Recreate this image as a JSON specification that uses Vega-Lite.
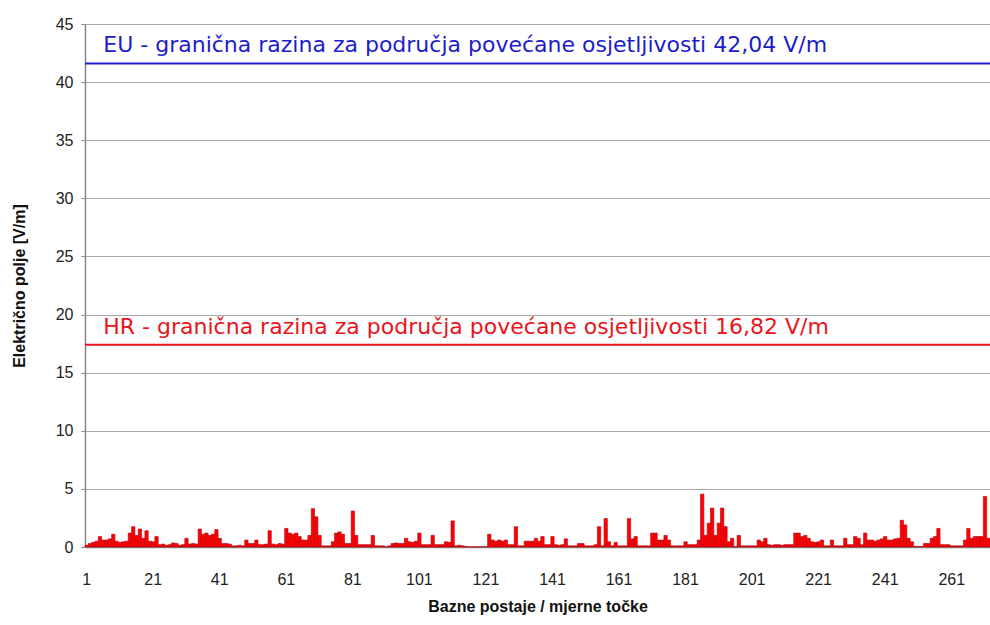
{
  "$schema": "https://vega.github.io/schema/vega-lite/v6.json",
  "width": 905,
  "height": 523,
  "autosize": {"type": "none"},
  "padding": {"left": 85, "top": 24, "right": 0, "bottom": 78},
  "background": "white",
  "config": {
    "view": {"stroke": null},
    "font": "Liberation Sans",
    "axis": {"labelFont": "Liberation Sans", "titleFont": "Liberation Sans"}
  },
  "datasets": {
    "bars": [
      {"i":1,"v":0.15},{"i":2,"v":0.3},{"i":3,"v":0.4},{"i":4,"v":0.5},{"i":5,"v":0.9},{"i":6,"v":0.6},{"i":7,"v":0.6},{"i":8,"v":0.7},{"i":9,"v":1.1},{"i":10,"v":0.5},
      {"i":11,"v":0.4},{"i":12,"v":0.45},{"i":13,"v":0.5},{"i":14,"v":1.2},{"i":15,"v":1.75},{"i":16,"v":1.0},{"i":17,"v":1.55},{"i":18,"v":0.75},{"i":19,"v":1.4},{"i":20,"v":0.5},
      {"i":21,"v":0.45},{"i":22,"v":0.9},{"i":23,"v":0.2},{"i":24,"v":0.25},{"i":25,"v":0.15},{"i":26,"v":0.2},{"i":27,"v":0.35},{"i":28,"v":0.3},{"i":29,"v":0.15},{"i":30,"v":0.2},
      {"i":31,"v":0.75},{"i":32,"v":0.25},{"i":33,"v":0.3},{"i":34,"v":0.25},{"i":35,"v":1.55},{"i":36,"v":1.1},{"i":37,"v":1.2},{"i":38,"v":1.0},{"i":39,"v":1.1},{"i":40,"v":1.5},
      {"i":41,"v":0.75},{"i":42,"v":0.3},{"i":43,"v":0.3},{"i":44,"v":0.25},{"i":45,"v":0.1},{"i":46,"v":0.1},{"i":47,"v":0.15},{"i":48,"v":0.1},{"i":49,"v":0.6},{"i":50,"v":0.3},
      {"i":51,"v":0.3},{"i":52,"v":0.6},{"i":53,"v":0.2},{"i":54,"v":0.2},{"i":55,"v":0.25},{"i":56,"v":1.4},{"i":57,"v":0.25},{"i":58,"v":0.2},{"i":59,"v":0.3},{"i":60,"v":0.25},
      {"i":61,"v":1.6},{"i":62,"v":1.2},{"i":63,"v":1.1},{"i":64,"v":1.2},{"i":65,"v":0.9},{"i":66,"v":0.6},{"i":67,"v":0.6},{"i":68,"v":1.0},{"i":69,"v":3.3},{"i":70,"v":2.6},
      {"i":71,"v":1.0},{"i":72,"v":0.1},{"i":73,"v":0.1},{"i":74,"v":0.1},{"i":75,"v":0.45},{"i":76,"v":1.2},{"i":77,"v":1.3},{"i":78,"v":1.1},{"i":79,"v":0.3},{"i":80,"v":0.3},
      {"i":81,"v":3.1},{"i":82,"v":1.0},{"i":83,"v":0.2},{"i":84,"v":0.2},{"i":85,"v":0.2},{"i":86,"v":0.2},{"i":87,"v":1.0},{"i":88,"v":0.1},{"i":89,"v":0.1},{"i":90,"v":0.1},
      {"i":91,"v":0.02},{"i":92,"v":0.1},{"i":93,"v":0.3},{"i":94,"v":0.35},{"i":95,"v":0.3},{"i":96,"v":0.3},{"i":97,"v":0.75},{"i":98,"v":0.45},{"i":99,"v":0.4},{"i":100,"v":0.5},
      {"i":101,"v":1.2},{"i":102,"v":0.2},{"i":103,"v":0.2},{"i":104,"v":0.2},{"i":105,"v":1.0},{"i":106,"v":0.2},{"i":107,"v":0.2},{"i":108,"v":0.2},{"i":109,"v":0.45},{"i":110,"v":0.4},
      {"i":111,"v":2.25},{"i":112,"v":0.1},{"i":113,"v":0.15},{"i":114,"v":0.1},{"i":115,"v":0.05},{"i":116,"v":0.02},{"i":117,"v":0.02},{"i":118,"v":0.02},{"i":119,"v":0.02},{"i":120,"v":0.02},
      {"i":121,"v":0.02},{"i":122,"v":1.1},{"i":123,"v":0.6},{"i":124,"v":0.5},{"i":125,"v":0.6},{"i":126,"v":0.5},{"i":127,"v":0.6},{"i":128,"v":0.2},{"i":129,"v":0.2},{"i":130,"v":1.75},
      {"i":131,"v":0.1},{"i":132,"v":0.1},{"i":133,"v":0.5},{"i":134,"v":0.5},{"i":135,"v":0.5},{"i":136,"v":0.75},{"i":137,"v":0.5},{"i":138,"v":0.9},{"i":139,"v":0.2},{"i":140,"v":0.2},
      {"i":141,"v":0.9},{"i":142,"v":0.2},{"i":143,"v":0.15},{"i":144,"v":0.2},{"i":145,"v":0.7},{"i":146,"v":0.1},{"i":147,"v":0.1},{"i":148,"v":0.1},{"i":149,"v":0.3},{"i":150,"v":0.3},
      {"i":151,"v":0.1},{"i":152,"v":0.1},{"i":153,"v":0.1},{"i":154,"v":0.2},{"i":155,"v":1.75},{"i":156,"v":0.1},{"i":157,"v":2.45},{"i":158,"v":0.45},{"i":159,"v":0.1},{"i":160,"v":0.4},
      {"i":161,"v":0.1},{"i":162,"v":0.1},{"i":163,"v":0.1},{"i":164,"v":2.45},{"i":165,"v":0.7},{"i":166,"v":0.9},{"i":167,"v":0.1},{"i":168,"v":0.1},{"i":169,"v":0.1},{"i":170,"v":0.1},
      {"i":171,"v":1.2},{"i":172,"v":1.2},{"i":173,"v":0.6},{"i":174,"v":0.6},{"i":175,"v":1.0},{"i":176,"v":0.6},{"i":177,"v":0.1},{"i":178,"v":0.1},{"i":179,"v":0.1},{"i":180,"v":0.1},
      {"i":181,"v":0.45},{"i":182,"v":0.2},{"i":183,"v":0.2},{"i":184,"v":0.2},{"i":185,"v":0.6},{"i":186,"v":4.55},{"i":187,"v":1.0},{"i":188,"v":2.05},{"i":189,"v":3.35},{"i":190,"v":1.0},
      {"i":191,"v":2.05},{"i":192,"v":3.35},{"i":193,"v":1.75},{"i":194,"v":0.45},{"i":195,"v":0.75},{"i":196,"v":0.02},{"i":197,"v":1.0},{"i":198,"v":0.1},{"i":199,"v":0.1},{"i":200,"v":0.1},
      {"i":201,"v":0.1},{"i":202,"v":0.1},{"i":203,"v":0.6},{"i":204,"v":0.45},{"i":205,"v":0.75},{"i":206,"v":0.2},{"i":207,"v":0.15},{"i":208,"v":0.2},{"i":209,"v":0.2},{"i":210,"v":0.15},
      {"i":211,"v":0.2},{"i":212,"v":0.2},{"i":213,"v":0.2},{"i":214,"v":1.2},{"i":215,"v":1.2},{"i":216,"v":0.9},{"i":217,"v":1.0},{"i":218,"v":0.75},{"i":219,"v":0.45},{"i":220,"v":0.4},
      {"i":221,"v":0.45},{"i":222,"v":0.6},{"i":223,"v":0.1},{"i":224,"v":0.1},{"i":225,"v":0.6},{"i":226,"v":0.1},{"i":227,"v":0.1},{"i":228,"v":0.1},{"i":229,"v":0.75},{"i":230,"v":0.2},
      {"i":231,"v":0.2},{"i":232,"v":0.9},{"i":233,"v":0.75},{"i":234,"v":0.2},{"i":235,"v":1.2},{"i":236,"v":0.6},{"i":237,"v":0.6},{"i":238,"v":0.5},{"i":239,"v":0.6},{"i":240,"v":0.7},
      {"i":241,"v":0.9},{"i":242,"v":0.6},{"i":243,"v":0.6},{"i":244,"v":0.7},{"i":245,"v":0.75},{"i":246,"v":2.3},{"i":247,"v":1.9},{"i":248,"v":0.75},{"i":249,"v":0.45},{"i":250,"v":0.05},
      {"i":251,"v":0.05},{"i":252,"v":0.05},{"i":253,"v":0.3},{"i":254,"v":0.3},{"i":255,"v":0.75},{"i":256,"v":0.9},{"i":257,"v":1.6},{"i":258,"v":0.2},{"i":259,"v":0.2},{"i":260,"v":0.2},
      {"i":261,"v":0.1},{"i":262,"v":0.1},{"i":263,"v":0.1},{"i":264,"v":0.1},{"i":265,"v":0.6},{"i":266,"v":1.6},{"i":267,"v":0.75},{"i":268,"v":0.9},{"i":269,"v":0.9},{"i":270,"v":0.9},
      {"i":271,"v":4.35},{"i":272,"v":0.75}
    ],
    "limits": [
      {"name": "EU", "y": 41.6, "ty": 43.2, "tx": 6, "color": "#1c1ccc", "label": "EU - granična razina za područja povećane osjetljivosti 42,04 V/m"},
      {"name": "HR", "y": 17.4, "ty": 18.9, "tx": 6, "color": "#e8141c", "label": "HR - granična razina za područja povećane osjetljivosti 16,82 V/m"}
    ]
  },
  "layer": [
    {
      "data": {"name": "bars"},
      "mark": {"type": "bar", "color": "#ff0000", "stroke": "#b00010", "strokeWidth": 0.6},
      "encoding": {
        "x": {
          "field": "i", "type": "ordinal",
          "scale": {"type": "band", "paddingInner": 0, "paddingOuter": 0},
          "axis": {
            "values": [1,21,41,61,81,101,121,141,161,181,201,221,241,261],
            "labelAngle": 0, "labelFontSize": 16, "labelColor": "#222",
            "labelPadding": 24, "ticks": false, "domainColor": "#888", "domainWidth": 1.5,
            "title": "Bazne postaje / mjerne točke", "titleFontSize": 16, "titleFontWeight": "bold",
            "titleColor": "#111", "titlePadding": 11
          }
        },
        "y": {
          "field": "v", "type": "quantitative",
          "scale": {"domain": [0, 45], "nice": false},
          "axis": {
            "values": [0,5,10,15,20,25,30,35,40,45],
            "labelFontSize": 16, "labelColor": "#222", "labelPadding": 8,
            "tickSize": 4, "tickColor": "#888", "domainColor": "#888", "domainWidth": 1.5,
            "grid": true, "gridColor": "#a8a8a8", "gridWidth": 1.2,
            "title": "Električno polje [V/m]", "titleFontSize": 16, "titleFontWeight": "bold",
            "titleColor": "#111", "titlePadding": 28
          }
        }
      }
    },
    {
      "data": {"name": "limits"},
      "mark": {"type": "rule", "strokeWidth": 2},
      "encoding": {
        "y": {"field": "y", "type": "quantitative"},
        "color": {"field": "color", "type": "nominal", "scale": null}
      }
    },
    {
      "data": {"name": "limits"},
      "mark": {"type": "text", "align": "left", "baseline": "middle", "fontSize": 22, "font": "DejaVu Sans"},
      "encoding": {
        "x": {"field": "tx", "type": "ordinal"},
        "y": {"field": "ty", "type": "quantitative"},
        "text": {"field": "label"},
        "color": {"field": "color", "type": "nominal", "scale": null}
      }
    }
  ]
}
